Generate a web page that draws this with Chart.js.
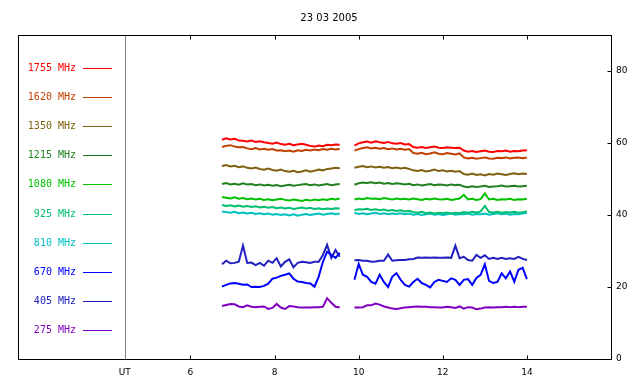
<!DOCTYPE html>
<html>
<head>
<meta charset="utf-8">
<script src="https://cdn.jsdelivr.net/npm/chart.js@4.4.0/dist/chart.umd.min.js"></script>
<style>
  html, body { margin: 0; padding: 0; background: #fff; }
</style>
</head>
<body>
<canvas id="chart" width="640" height="384"></canvas>
<script>
const chartTitle = "23 03 2005";
// legend labels and colours, top to bottom
const freqs = ["1755 MHz", "1620 MHz", "1350 MHz", "1215 MHz", "1080 MHz",
               "925 MHz", "810 MHz", "670 MHz", "405 MHz", "275 MHz"];
const colors = ["#ff0000", "#c04000", "#806010", "#208020", "#00c000",
                "#00c070", "#00c0c0", "#0000ff", "#2020c0", "#8000c0"];
// hours UT (null value at 9.7 = gap in the record)
const times = [6.75, 6.85, 6.95, 7.05, 7.15, 7.25, 7.35, 7.45, 7.55, 7.65,
               7.75, 7.85, 7.95, 8.05, 8.15, 8.25, 8.35, 8.45, 8.55, 8.65,
               8.75, 8.85, 8.95, 9.05, 9.15, 9.25, 9.35, 9.45, 9.55,
               9.7,
               9.9, 10.0, 10.1, 10.2, 10.3, 10.4, 10.5, 10.6, 10.7, 10.8,
               10.9, 11.0, 11.1, 11.2, 11.3, 11.4, 11.5, 11.6, 11.7, 11.8,
               11.9, 12.0, 12.1, 12.2, 12.3, 12.4, 12.5, 12.6, 12.7, 12.8,
               12.9, 13.0, 13.1, 13.2, 13.3, 13.4, 13.5, 13.6, 13.7, 13.8,
               13.9, 14.0];

const f1755 = [60.9, 61.3, 61.0, 61.2, 60.7, 60.6, 60.4, 60.7, 60.3, 60.5,
               60.2, 60.0, 59.8, 60.1, 59.7, 59.5, 59.8, 59.4, 59.6, 59.8,
               59.5, 59.2, 59.0, 59.3, 59.1, 59.5, 59.4, 59.6, 59.5,
               null,
               59.3, 59.9, 60.2, 60.4, 60.1, 60.5, 60.2, 60.0, 60.3, 59.9,
               59.8, 60.0, 59.6, 59.7, 58.9, 58.7, 58.9, 58.6, 58.8, 59.0,
               58.7, 58.6, 58.8, 58.7, 58.6, 58.7, 57.9, 57.6, 57.8, 57.5,
               57.7, 57.9, 57.6, 57.5, 57.8, 57.7, 57.9, 57.6, 57.8, 57.7,
               57.9, 58.0];
const f1620 = [58.9, 59.2, 59.4, 59.0, 58.8, 58.9, 58.5, 58.3, 58.6, 58.2,
               58.4, 58.1, 58.3, 57.9, 58.0, 57.7, 57.9, 57.6, 58.0, 57.8,
               58.1, 57.9, 58.2, 58.0, 58.3, 58.1, 58.4, 58.2, 58.3,
               null,
               57.9, 58.3, 58.6, 58.8, 58.5, 58.7, 58.4, 58.6, 58.3, 58.5,
               58.2, 58.4, 58.1, 58.3, 57.2, 57.0, 57.3, 56.9, 57.1, 57.4,
               57.0, 56.9, 57.2, 57.0, 56.8, 57.1, 56.0, 55.7, 55.9, 55.6,
               55.8, 56.0, 55.7, 55.6, 55.9, 55.8, 56.0, 55.7, 55.9, 56.0,
               55.8, 56.0];
const f1350 = [53.6, 53.9, 53.5, 53.7, 53.3, 53.5, 53.1, 52.9, 53.2, 52.8,
               52.6, 52.9, 52.5, 52.3, 52.6, 52.2, 52.0, 52.3, 51.9, 52.1,
               52.4, 52.0, 52.3, 52.6, 52.4, 52.8, 52.9, 53.1, 53.0,
               null,
               53.1, 53.4, 53.6, 53.3, 53.5, 53.2, 53.4, 53.1, 53.3, 53.0,
               53.2, 52.9, 53.1, 52.8, 52.4, 52.2, 52.5, 52.1, 52.3, 52.6,
               52.2, 52.4, 52.1, 52.3, 52.0, 52.2, 51.4, 51.2, 51.5, 51.1,
               51.3, 51.0, 51.4, 51.2, 51.5, 51.3, 51.1, 51.4, 51.6, 51.3,
               51.5, 51.4];
const f1215 = [48.6, 48.9, 48.5, 48.7, 48.4, 48.8, 48.5, 48.6, 48.3, 48.5,
               48.2, 48.4, 48.1, 48.3, 48.0, 48.2, 48.4, 48.1, 48.3, 48.5,
               48.6, 48.3, 48.5, 48.2, 48.4, 48.6, 48.3, 48.5, 48.6,
               null,
               48.4, 48.8, 49.0, 48.9, 49.1, 48.8, 49.0, 48.7, 48.9, 48.6,
               48.8, 48.7, 48.5, 48.7, 48.3, 48.5, 48.2, 48.4, 48.6, 48.3,
               48.5, 48.4, 48.2, 48.5, 48.3, 48.4, 47.9, 47.7, 48.0, 47.8,
               47.9, 48.1, 47.8, 47.9, 48.0, 48.2, 47.9, 48.0, 48.1, 47.9,
               48.0, 48.1];
const f1080 = [45.0, 44.8, 44.6, 44.9, 44.5, 44.7, 44.4, 44.6, 44.3, 44.5,
               44.2, 44.4, 44.1, 44.3, 44.5, 44.2, 44.0, 44.3, 44.1, 43.9,
               44.2, 44.0, 44.3, 44.1, 44.4, 44.2, 44.5, 44.3, 44.6,
               null,
               44.3, 44.6, 44.4, 44.7, 44.5, 44.6, 44.4, 44.7, 44.5, 44.3,
               44.6, 44.4, 44.5, 44.3, 44.6, 44.4, 44.2, 44.5, 44.3, 44.6,
               44.4, 44.3, 44.5, 44.2, 44.4, 44.6, 45.6, 44.3, 44.5, 44.2,
               44.4, 46.0, 44.3, 44.5, 44.2, 44.4, 44.3, 44.5, 44.2, 44.4,
               44.3, 44.5];
const f925 = [42.8, 42.5, 42.7, 42.4, 42.6, 42.3, 42.5, 42.2, 42.4, 42.1,
              42.3, 42.0, 42.2, 41.9, 42.1, 41.8, 42.0, 41.7, 41.9, 42.1,
              41.8, 42.0, 41.7, 41.9, 41.6, 41.8, 41.7, 41.9, 41.8,
              null,
              41.4, 41.6, 41.5, 41.7, 41.4, 41.6, 41.3, 41.5, 41.2, 41.4,
              41.1, 41.3, 41.0, 41.2, 40.8, 40.6, 40.9, 40.5, 40.7, 40.4,
              40.6, 40.5, 40.7, 40.4, 40.6, 40.5, 40.8, 40.6, 40.9, 40.7,
              41.0, 42.5, 40.8, 40.7, 40.9, 40.6, 40.8, 40.7, 40.9, 40.6,
              40.8, 41.0];
const f810 = [41.0, 40.8, 40.6, 40.9, 40.5, 40.7, 40.4, 40.6, 40.3, 40.5,
              40.2, 40.4, 40.1, 40.3, 40.0, 40.2, 39.9, 40.2, 39.8, 40.1,
              40.3, 40.0, 40.2, 40.4, 40.1, 40.3, 40.5, 40.2, 40.4,
              null,
              40.6, 40.3, 40.5, 40.2, 40.4, 40.6, 40.3, 40.5, 40.2, 40.4,
              40.3, 40.5, 40.2, 40.4, 40.1, 40.3, 40.0, 40.2, 40.4, 40.1,
              40.3, 40.0, 40.2, 40.4, 40.1, 40.3, 40.2, 40.4, 40.1, 40.3,
              40.2, 40.4, 40.1, 40.3, 40.5, 40.2, 40.4, 40.1, 40.3, 40.2,
              40.4, 40.6];
const f670 = [20.1, 20.6, 21.0, 21.1, 20.9, 20.6, 20.7, 20.0, 20.1, 20.0,
              20.3, 20.9, 22.3, 22.6, 23.1, 23.4, 23.8, 22.3, 21.5, 21.4,
              21.1, 21.0, 20.1, 22.9, 27.0, 29.8, 28.9, 28.1, 29.5,
              null,
              22.0, 26.4, 23.4, 22.8, 21.4, 20.9, 23.4, 21.4, 20.0, 22.9,
              23.8, 22.0, 20.6, 20.1, 21.4, 22.3, 21.1, 20.6, 19.9, 21.4,
              22.0, 21.7, 21.4, 22.4, 22.0, 20.6, 22.0, 22.2, 20.6, 22.5,
              23.4, 26.3, 21.7, 21.1, 21.4, 23.8, 22.4, 24.3, 21.5, 24.8,
              25.3, 22.2];
const f405 = [26.3, 27.3, 26.6, 26.7, 27.0, 31.5, 26.7, 26.8, 26.1, 26.7,
              25.9, 27.3, 26.7, 28.0, 25.7, 27.0, 27.7, 25.5, 26.7, 27.0,
              26.9, 26.7, 27.0, 27.0, 28.9, 31.7, 28.1, 30.3, 28.4,
              null,
              27.4, 27.5, 27.3, 27.3, 27.0, 27.1, 27.3, 27.3, 29.0, 27.3,
              27.4, 27.5, 27.5, 27.7, 27.8, 28.2, 28.1, 28.2, 28.1, 28.2,
              28.1, 28.1, 28.2, 28.1, 31.5, 28.0, 28.4, 27.5, 27.3, 28.9,
              28.1, 28.8, 27.8, 28.1, 27.8, 28.1, 27.8, 28.0, 27.8, 28.4,
              27.8, 27.5];
const f275 = [14.7, 15.0, 15.3, 15.2, 14.6, 14.4, 14.9, 14.5, 14.4, 14.5,
              14.6, 13.9, 14.2, 15.3, 14.3, 13.9, 14.7, 14.6, 14.4, 14.3,
              14.3, 14.3, 14.4, 14.4, 14.5, 16.9, 15.6, 14.5, 14.3,
              null,
              14.3, 14.3, 14.4, 14.9, 14.9, 15.4, 15.1, 14.6, 14.3, 14.0,
              13.9, 14.1, 14.3, 14.4, 14.5, 14.6, 14.5, 14.5, 14.4, 14.4,
              14.3, 14.3, 14.5, 14.4, 14.2, 14.6, 14.0, 14.4, 14.3, 13.8,
              14.0, 14.3, 14.4, 14.3, 14.4, 14.4, 14.5, 14.4, 14.5, 14.4,
              14.5, 14.5];
const series = [f1755, f1620, f1350, f1215, f1080, f925, f810, f670, f405, f275];

const xTicks = [6, 8, 10, 12, 14];
const yTicks = [20, 40, 60, 80];
const utMark = 4.44;

Chart.defaults.font.family = "'DejaVu Sans', sans-serif";
Chart.defaults.font.size = 9;
Chart.defaults.color = "#000";

// frame, inward tick marks, UT line and the left legend
const framePlugin = {
  id: "frame",
  afterDraw(chart) {
    const { ctx, chartArea: a, scales: { x, y } } = chart;
    const L = Math.round(a.left) + 0.5, R = Math.round(a.right) + 0.5;
    const T = Math.round(a.top) + 0.5, B = Math.round(a.bottom) + 0.5;
    ctx.save();
    ctx.lineWidth = 1;
    ctx.strokeStyle = "#808080";
    const ux = Math.round(x.getPixelForValue(utMark)) + 0.5;
    ctx.beginPath();
    ctx.moveTo(ux, T);
    ctx.lineTo(ux, B);
    ctx.stroke();

    ctx.strokeStyle = "#000";
    ctx.strokeRect(L, T, R - L, B - T);
    ctx.beginPath();
    xTicks.forEach(v => {
      const px = Math.round(x.getPixelForValue(v)) + 0.5;
      ctx.moveTo(px, B - 4); ctx.lineTo(px, B);
      ctx.moveTo(px, T); ctx.lineTo(px, T + 4);
    });
    yTicks.forEach(v => {
      const py = Math.round(y.getPixelForValue(v)) + 0.5;
      ctx.moveTo(R - 4, py); ctx.lineTo(R, py);
    });
    ctx.stroke();

    ctx.font = "10px 'DejaVu Sans Mono'";
    ctx.textAlign = "right";
    ctx.textBaseline = "middle";
    freqs.forEach((f, i) => {
      const ly = Math.round(67.5 + i * 29.2);
      ctx.fillStyle = colors[i];
      ctx.fillText(f, 76, ly);
      ctx.strokeStyle = colors[i];
      ctx.beginPath();
      ctx.moveTo(83, ly + 0.5);
      ctx.lineTo(112, ly + 0.5);
      ctx.stroke();
    });
    ctx.restore();
  }
};

new Chart(document.getElementById("chart"), {
  type: "line",
  data: {
    datasets: series.map((vals, i) => ({
      label: freqs[i],
      data: times.map((t, j) => ({ x: t, y: vals[j] })),
      borderColor: colors[i],
      borderWidth: 2,
      pointRadius: 0,
      tension: 0,
      spanGaps: false
    }))
  },
  options: {
    responsive: false,
    animation: false,
    layout: { padding: { left: 18 } },
    plugins: {
      legend: { display: false },
      tooltip: { enabled: false },
      title: {
        display: true,
        text: chartTitle,
        color: "#000",
        font: { size: 10, weight: "normal" },
        padding: { top: 12, bottom: 11 }
      }
    },
    scales: {
      x: {
        type: "linear",
        min: 1.9,
        max: 16,
        grid: { display: false, drawTicks: false, tickLength: 0 },
        border: { display: false },
        afterBuildTicks: s => { s.ticks = [utMark].concat(xTicks).map(v => ({ value: v })); },
        afterFit: s => { s.height = 25; },
        ticks: {
          padding: 8,
          maxRotation: 0,
          autoSkip: false,
          callback: v => (v === utMark ? "UT" : v)
        }
      },
      y: {
        position: "right",
        min: 0,
        max: 90,
        grid: { display: false, drawTicks: false, tickLength: 0 },
        border: { display: false },
        afterFit: s => { s.width = 29; },
        ticks: { stepSize: 20, includeBounds: false, padding: 5 }
      }
    }
  },
  plugins: [framePlugin]
});
</script>
</body>
</html>
